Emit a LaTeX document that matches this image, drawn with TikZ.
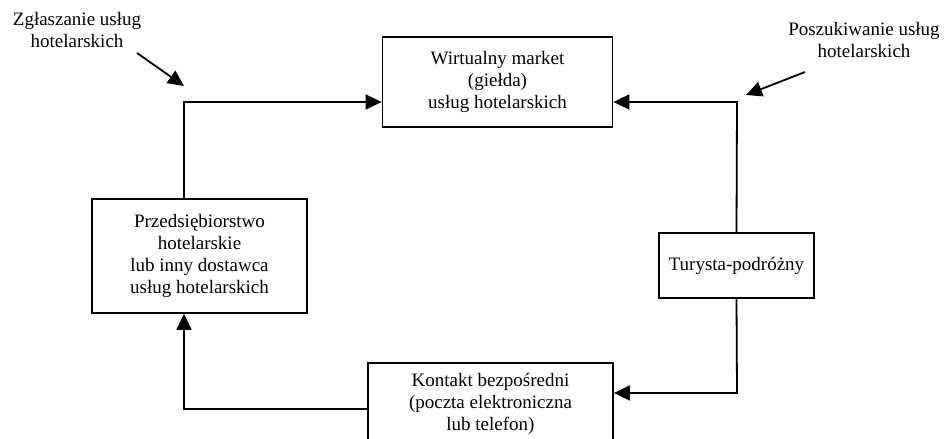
\documentclass[tikz,border=0pt]{standalone}
\usepackage{fontspec}
\setmainfont{Liberation Serif}
\usetikzlibrary{arrows.meta, positioning}
\tikzset{
flow/.style={-{Triangle[length=16pt,width=15pt]}, line width=1.8pt}, % arrows between the boxes
box/.style={draw, line width=1.8pt, align=center, inner sep=0pt, font=\fontsize{19}{22}\selectfont}, % every box
note/.style={align=center, font=\fontsize{19}{22}\selectfont}, % free notes
}

\begin{document}
\begin{tikzpicture}[x=1pt, y=-1pt]
      \useasboundingbox (0,0) rectangle (945,439);

      \node[box, minimum width=230pt, minimum height=90pt] (market) at (497.5,82) {Wirtualny market\\(giełda)\\usług hotelarskich};
      \node[box, minimum width=215pt, minimum height=114pt] (firma) at (199.5,256) {Przedsiębiorstwo\\hotelarskie\\lub inny dostawca\\usług hotelarskich};
      \node[box, minimum width=155pt, minimum height=65pt] (turysta) at (736.5,265.5) {Turysta-podróżny};
      \node[box, minimum width=245pt, minimum height=82pt, anchor=north] (kontakt) at (490.5,362) {Kontakt bezpośredni\\(poczta elektroniczna\\lub telefon)};

      \node[note] (zgl) at (77,30) {Zgłaszanie usług\\hotelarskich};
      \node[note] (szuk) at (864,40) {Poszukiwanie usług\\hotelarskich};

      \coordinate (upL) at (184,102);
      \coordinate (upR) at (737,102);
      \coordinate (dnR) at (737,393);
      \coordinate (dnL) at (184,409);
      \coordinate (zglTail) at (137,53);
      \coordinate (zglTip) at (184,86);
      \coordinate (szukTail) at (805,72);
      \coordinate (szukTip) at (746,95);

      \draw[flow] (upL |- firma.north) -- (upL) -- (upL -| market.west);
      \draw[flow] (turysta.north) -- (upR) -- (upR -| market.east);
      \draw[flow] (turysta.south) -- (dnR) -- (dnR -| kontakt.east);
      \draw[flow] (dnL -| kontakt.west) -- (dnL) -- (dnL |- firma.south);
      \draw[flow] (zglTail) -- (zglTip);
      \draw[flow] (szukTail) -- (szukTip);
\end{tikzpicture}
\end{document}
